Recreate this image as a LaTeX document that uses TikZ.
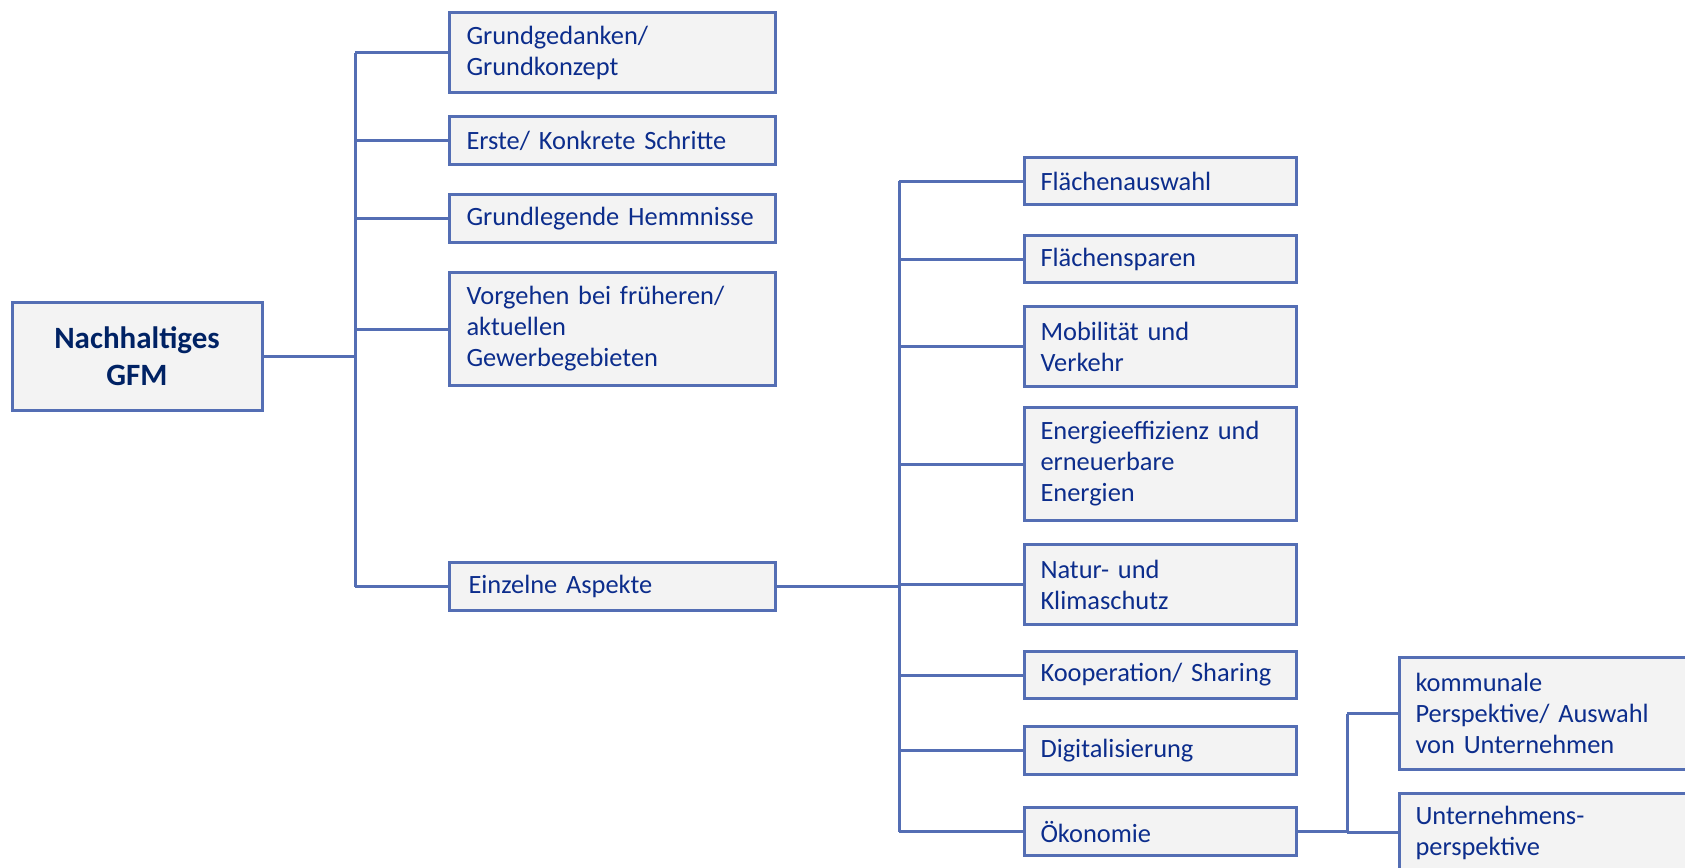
\documentclass[tikz,border=0pt]{standalone}
\usepackage{fontspec}
\setmainfont{Carlito}
\usetikzlibrary{positioning}
\definecolor{frame}{RGB}{84,110,180}
\definecolor{card}{RGB}{243,243,243}
\definecolor{ink}{RGB}{12,45,140}
\definecolor{inkdark}{RGB}{0,34,100}
\newcommand{\tboxfont}{\fontsize{13.2}{15.5}\selectfont\hyphenpenalty=10000}
\newcommand{\rootfont}{\fontsize{15.5}{18.3}\selectfont\bfseries}
\tikzset{
  rootbox/.style={draw=frame, line width=1.5pt, fill=card, align=center,
              minimum width=125pt, minimum height=54pt, font=\rootfont, text=inkdark},
  topic/.style={draw=frame, line width=1.5pt, fill=card, anchor=north west, align=left,
              text width=146pt, inner xsep=8.5pt, inner ysep=2pt, font=\tboxfont, text=ink},
  aspect/.style={topic, text width=120pt, inner xsep=8pt},
  detail/.style={topic, text width=136pt, inner xsep=8pt},
  conn/.style={draw=frame, line width=1.5pt},
}

\begin{document}
\begin{tikzpicture}[x=0.5pt, y=-0.5pt]
  \clip (0,0) rectangle (1685,867);

  \node[rootbox] (root) at (137,356) {Nachhaltiges\\GFM};

  % first level
  \node[topic, minimum height=40pt] (g1) at (448,11) {Grundgedanken/\\Grundkonzept};
  \node[topic, minimum height=24pt] (g2) at (448,115) {Erste/ Konkrete Schritte};
  \node[topic, minimum height=24pt] (g3) at (448,193) {Grundlegende Hemmnisse};
  \node[topic, minimum height=56.5pt] (g4) at (448,271) {Vorgehen bei früheren/\\aktuellen\\Gewerbegebieten};
  \node[topic, minimum height=24pt] (g5) at (448,561) {\hspace*{1pt}Einzelne Aspekte};

  % second level
  \node[aspect, minimum height=23.5pt] (a1) at (1023,156) {Flächenauswahl};
  \node[aspect, minimum height=23.5pt] (a2) at (1023,234) {Flächensparen};
  \node[aspect, minimum height=40pt] (a3) at (1023,305) {Mobilität und\\Verkehr};
  \node[aspect, minimum height=56.5pt] (a4) at (1023,406) {Energieeffizienz und\\erneuerbare\\Energien};
  \node[aspect, minimum height=40pt] (a5) at (1023,543) {Natur- und\\Klimaschutz};
  \node[aspect, minimum height=23.5pt] (a6) at (1023,650) {Kooperation/ Sharing};
  \node[aspect, minimum height=24pt] (a7) at (1023,725) {Digitalisierung};
  \node[aspect, minimum height=24pt] (a8) at (1023,806) {Ökonomie};

  % third level
  \node[detail, minimum height=56pt] (b1) at (1398,656) {kommunale\\Perspektive/ Auswahl\\von Unternehmen};
  \node[detail, minimum height=39pt] (b2) at (1398,792) {Unternehmens-\\perspektive};

  % connectors
  \coordinate (jA) at (355,0);
  \coordinate (jB) at (899,0);
  \coordinate (jC) at (1347,0);

  \draw[conn] (root.east) -- (root.east -| jA);
  \draw[conn] (jA |- g1.west) -- (jA |- g5.west);
  \foreach \n in {g1,g2,g3,g4,g5}
    \draw[conn] (jA |- \n.west) -- (\n.west);

  \draw[conn] (g5.east) -- (g5.east -| jB);
  \draw[conn] (jB |- a1.west) -- (jB |- a8.west);
  \foreach \n in {a1,a2,a3,a4,a5,a6,a7,a8}
    \draw[conn] (jB |- \n.west) -- (\n.west);

  \draw[conn] (a8.east) -- (a8.east -| jC);
  \draw[conn] (jC |- b1.west) -- (jC |- b2.west);
  \foreach \n in {b1,b2}
    \draw[conn] (jC |- \n.west) -- (\n.west);
\end{tikzpicture}
\end{document}
